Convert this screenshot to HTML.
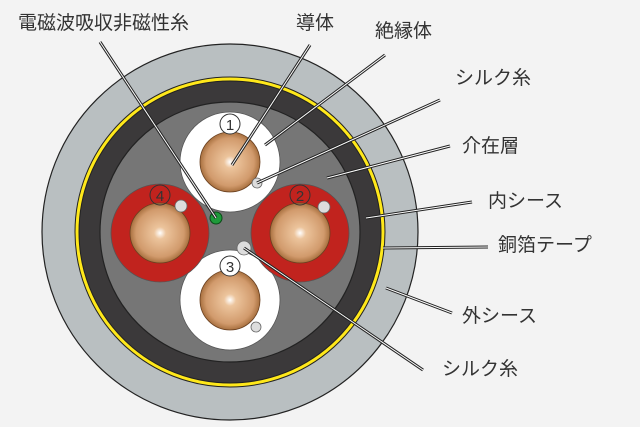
<!DOCTYPE html>
<html><head><meta charset="utf-8"><style>
html,body{margin:0;padding:0;background:#f3f3f3;}
svg{display:block}
text{font-family:"Liberation Sans","Noto Sans CJK JP",sans-serif;fill:#333;font-size:19px;}
.n{font-size:15px;fill:#333;}
</style></head><body>
<svg width="640" height="427" viewBox="0 0 640 427" xmlns="http://www.w3.org/2000/svg">
<defs>
<radialGradient id="cu" cx="50%" cy="50%" r="50%">
<stop offset="0" stop-color="#fff"/>
<stop offset="0.2" stop-color="#ecc49c"/>
<stop offset="0.8" stop-color="#d19a6c"/>
<stop offset="1" stop-color="#a8703f"/>
</radialGradient>
</defs>
<rect width="640" height="427" fill="#f3f3f3"/>
<circle cx="230" cy="232" r="188" fill="#b9bfc1" stroke="#222" stroke-width="1.2"/>
<circle cx="230" cy="232" r="155" fill="#ffe81a" stroke="#222" stroke-width="1"/>
<circle cx="230" cy="232" r="151" fill="#3b393a" stroke="#222" stroke-width="1"/>
<circle cx="230" cy="232" r="130" fill="#767676" stroke="#222" stroke-width="1.2"/>
<circle cx="230" cy="162" r="50" fill="#fff" stroke="#555" stroke-width="0.8"/>
<circle cx="230" cy="300" r="50" fill="#fff" stroke="#555" stroke-width="0.8"/>
<circle cx="160" cy="233" r="49" fill="#c1231e" stroke="#555" stroke-width="0.8"/>
<circle cx="300" cy="233" r="49" fill="#c1231e" stroke="#555" stroke-width="0.8"/>
<circle cx="230" cy="162" r="30" fill="url(#cu)" stroke="#6a4020" stroke-width="0.8"/>
<circle cx="230" cy="300" r="30" fill="url(#cu)" stroke="#6a4020" stroke-width="0.8"/>
<circle cx="160" cy="233" r="30" fill="url(#cu)" stroke="#6a4020" stroke-width="0.8"/>
<circle cx="300" cy="233" r="30" fill="url(#cu)" stroke="#6a4020" stroke-width="0.8"/>
<g fill="#ddd" stroke="#666" stroke-width="0.8">
<circle cx="257" cy="183" r="5"/>
<circle cx="181" cy="206" r="6"/>
<circle cx="324" cy="207" r="6"/>
<circle cx="256" cy="327" r="5"/>
<circle cx="244" cy="248" r="7"/>
</g>
<circle cx="216" cy="218" r="6" fill="#1e9a3a" stroke="#0b4a18" stroke-width="1"/>
<g fill="#fff" stroke="#333" stroke-width="1">
<circle cx="230" cy="124" r="10"/>
<circle cx="230" cy="266" r="10"/>
</g>
<g fill="none" stroke="#333" stroke-width="1">
<circle cx="160" cy="195" r="10"/>
<circle cx="300" cy="195" r="10"/>
</g>
<text class="n" x="230" y="130" text-anchor="middle">1</text>
<text class="n" x="230" y="272" text-anchor="middle">3</text>
<text class="n" x="160" y="201" text-anchor="middle">4</text>
<text class="n" x="300" y="201" text-anchor="middle">2</text>
<g stroke-linecap="butt" fill="none">
<g stroke="#222" stroke-width="3">
<line x1="100" y1="42" x2="216" y2="218"/>
<line x1="310" y1="45" x2="232" y2="165"/>
<line x1="385" y1="55" x2="265" y2="145"/>
<line x1="440" y1="100" x2="257" y2="183"/>
<line x1="450" y1="146" x2="327" y2="178"/>
<line x1="472" y1="202" x2="366" y2="218"/>
<line x1="488" y1="247" x2="383" y2="248"/>
<line x1="452" y1="313" x2="386" y2="288"/>
<line x1="423" y1="370" x2="244" y2="248"/>
</g>
<g stroke="#fff" stroke-width="1">
<line x1="100" y1="42" x2="216" y2="218"/>
<line x1="310" y1="45" x2="232" y2="165"/>
<line x1="385" y1="55" x2="265" y2="145"/>
<line x1="440" y1="100" x2="257" y2="183"/>
<line x1="450" y1="146" x2="327" y2="178"/>
<line x1="472" y1="202" x2="366" y2="218"/>
<line x1="488" y1="247" x2="383" y2="248"/>
<line x1="452" y1="313" x2="386" y2="288"/>
<line x1="423" y1="370" x2="244" y2="248"/>
</g>
</g>
<text x="18" y="29">電磁波吸収非磁性糸</text>
<text x="296" y="29">導体</text>
<text x="375" y="37">絶縁体</text>
<text x="455" y="84">シルク糸</text>
<text x="462" y="152">介在層</text>
<text x="488" y="207">内シース</text>
<text x="498" y="251">銅箔テープ</text>
<text x="462" y="322">外シース</text>
<text x="442" y="375">シルク糸</text>
</svg>
</body></html>
